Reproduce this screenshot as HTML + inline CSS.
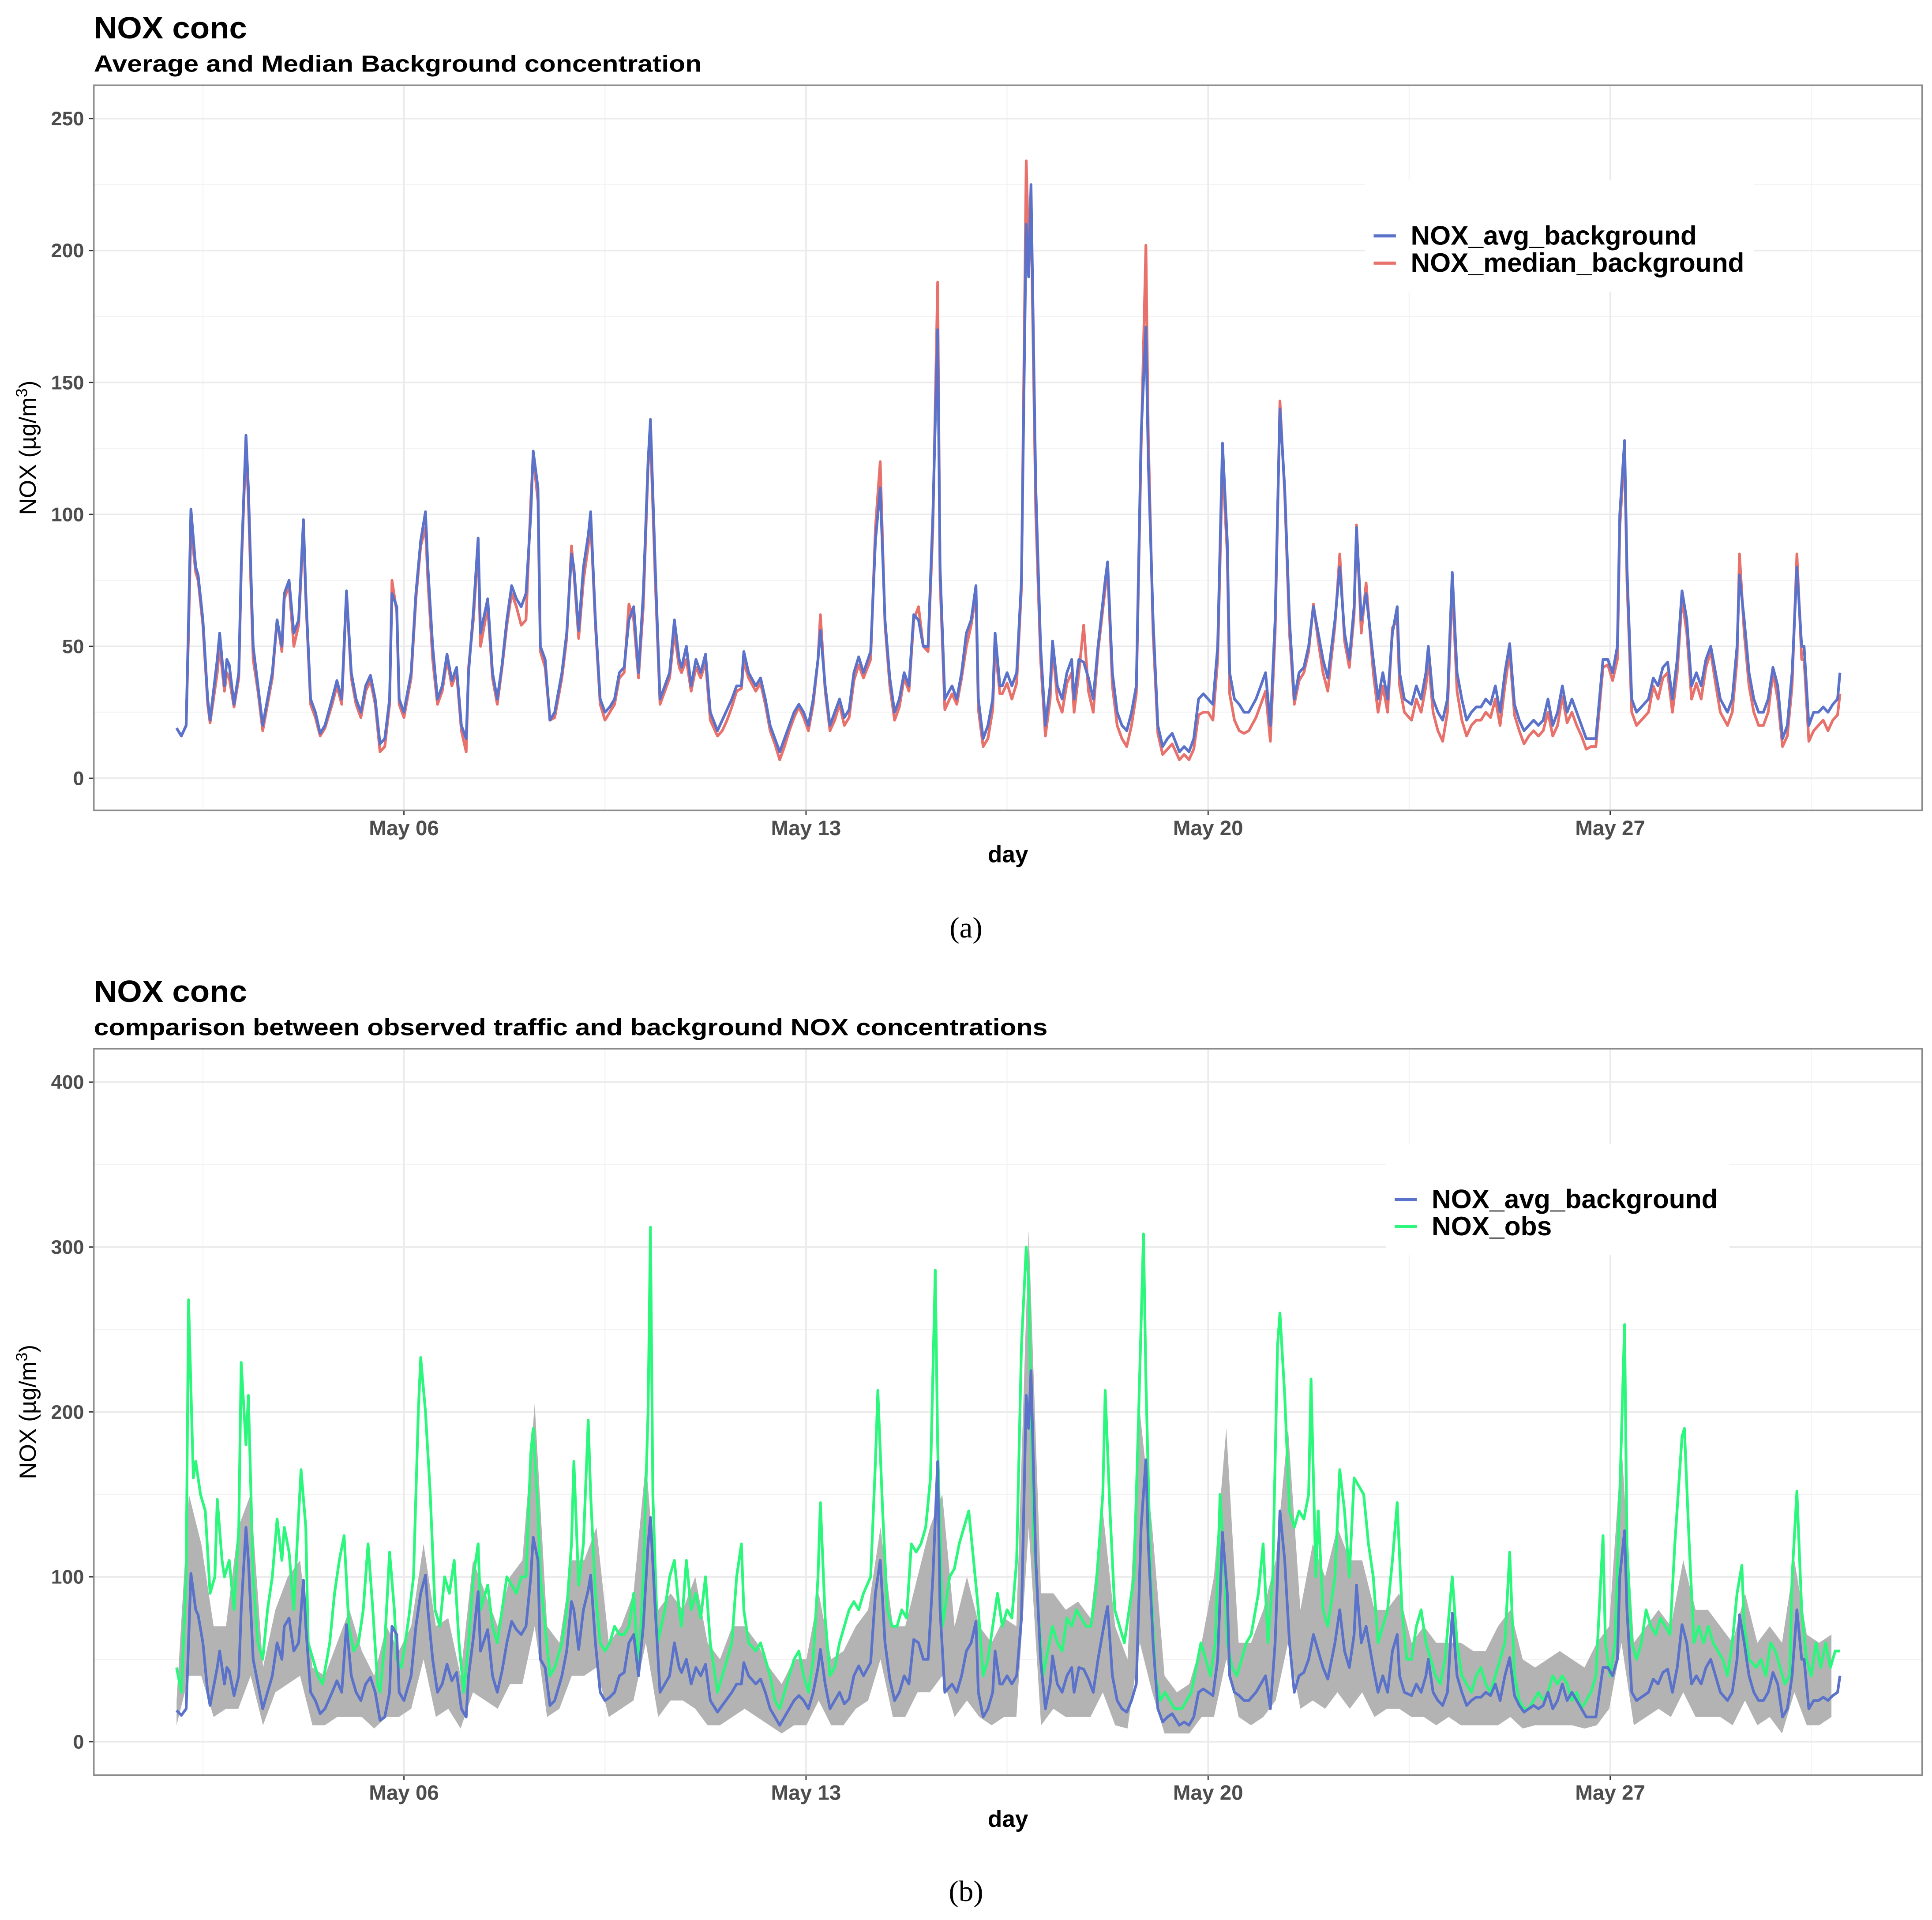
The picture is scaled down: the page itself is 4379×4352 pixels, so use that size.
<!DOCTYPE html>
<html><head><meta charset="utf-8"><style>
html,body{margin:0;padding:0;background:#fff}
svg{display:block}
text{font-family:"Liberation Sans",sans-serif}
</style></head><body>
<svg id="root" xmlns="http://www.w3.org/2000/svg" width="4379" height="4352" viewBox="0 0 1564 1554.3" preserveAspectRatio="none">
<rect x="0" y="0" width="1564" height="1555" fill="#fff"/>
<g id="panelA">
<text x="76" y="31" font-size="25" font-weight="bold" textLength="124" lengthAdjust="spacingAndGlyphs">NOX conc</text>
<text x="76" y="58" font-size="19" font-weight="bold" textLength="492" lengthAdjust="spacingAndGlyphs">Average and Median Background concentration</text>
</g>
<g id="panelB">
<text x="76" y="811" font-size="25" font-weight="bold" textLength="124" lengthAdjust="spacingAndGlyphs">NOX conc</text>
<text x="76" y="838" font-size="19" font-weight="bold" textLength="772" lengthAdjust="spacingAndGlyphs">comparison between observed traffic and background NOX concentrations</text>
</g>
<text x="782" y="759" font-size="24" text-anchor="middle" style="font-family:'Liberation Serif',serif">(a)</text>
<text x="782" y="1539" font-size="24" text-anchor="middle" style="font-family:'Liberation Serif',serif">(b)</text>
</svg>
<script>
// hours since May 02 00:00
const avgHours=[1,3,5,6,7,9,10,12,14,15,18,19,21,22,23,25,27,28,30,31,33,35,37,39,41,43,45,46,48,50,52,54,55,57,59,61,63,66,68,70,72,74,76,78,80,82,84,86,88,90,91,93,94,96,99,101,103,105,106,108,110,112,114,116,118,120,122,123,125,127,128,131,133,135,137,139,141,143,145,147,149,150,152,153,155,157,159,162,164,166,167,169,171,173,174,176,178,180,182,184,186,188,190,192,194,196,198,199,201,203,205,207,209,211,212,214,216,218,220,222,224,227,229,231,233,235,237,238,240,243,245,247,249,251,253,255,257,259,261,263,265,267,269,270,272,274,276,278,280,282,284,286,288,291,293,295,297,299,301,303,305,307,309,311,313,315,317,319,320,322,325,327,329,331,333,335,336,338,340,342,343,345,346,348,350,352,354,356,357,358,360,362,364,366,367,369,371,373,375,376,378,380,382,384,386,389,390,392,394,396,398,400,402,404,406,407,409,411,413,415,417,420,422,424,426,428,430,432,434,436,438,440,441,443,445,447,449,452,454,456,458,460,462,464,466,468,470,472,474,476,478,480,482,485,487,489,491,493,494,496,498,501,503,505,507,509,511,512,514,517,519,521,523,524,526,528,530,532,534,536,538,540,542,544,546,548,550,552,554,556,558,560,562,564,566,568,570,572,574,576,578,580,582,584,586,588,590,592,594,597,599,601,603,604,606,607,609,611,614,616,618,620,622,624,626,628,630,632,634,636,638,640,642,644,646,649,651,653,654,656,658,660,662,664,666,668,670,672,674,676,678,680,681,683,685,687,689,691,693,695,696];
const avgValues=[19,16,20,60,102,80,77,60,30,22,45,55,35,45,43,28,40,80,130,110,50,35,20,30,40,60,50,70,75,55,60,98,70,30,25,17,20,30,37,30,71,40,30,25,35,39,30,13,15,30,70,65,30,25,40,70,90,101,80,50,30,35,47,37,42,20,15,40,63,91,55,68,40,30,43,60,73,68,65,70,100,124,110,50,45,22,25,40,55,85,80,56,80,92,101,60,30,25,27,30,40,42,60,65,40,70,120,136,80,30,35,40,60,45,42,50,35,45,40,47,25,18,22,26,30,35,35,48,40,35,38,30,20,15,10,15,20,25,28,25,20,30,45,56,35,20,25,30,23,26,40,46,40,48,90,110,60,38,25,30,40,35,62,60,50,50,100,170,80,30,35,30,40,55,60,73,30,15,20,30,55,35,35,40,35,40,75,210,190,225,110,50,20,35,52,35,30,40,45,30,45,44,38,30,50,75,82,40,25,20,18,25,35,130,171,120,60,20,12,15,17,10,12,10,15,30,32,30,28,50,127,90,40,30,28,25,25,30,35,40,20,60,140,110,60,30,40,42,50,65,55,45,38,60,80,55,45,65,95,60,70,45,30,40,30,55,65,40,30,28,35,30,40,50,30,25,22,30,78,40,30,22,25,27,27,30,28,35,25,40,51,28,22,18,20,22,20,22,30,20,25,35,25,30,25,20,15,15,15,45,45,40,50,100,128,80,30,25,28,30,38,35,42,44,30,45,71,60,35,40,35,45,50,40,30,25,30,50,77,60,40,30,25,25,30,42,35,15,20,40,80,50,50,20,25,25,27,25,28,30,40];
const medianValues=[19,16,20,55,95,78,75,58,28,21,40,50,33,40,38,27,38,78,127,105,45,33,18,28,38,60,48,68,73,50,58,95,68,28,23,16,19,28,35,28,70,38,28,23,33,37,28,10,12,28,75,63,28,23,38,68,88,95,75,45,28,33,45,35,40,18,10,42,60,88,50,65,38,28,42,58,70,65,58,60,105,122,105,48,42,22,23,38,53,88,78,53,75,88,98,58,28,22,25,28,38,40,66,60,38,65,118,130,75,28,33,38,55,42,40,45,33,42,38,44,22,16,18,22,27,33,34,44,38,33,36,28,18,13,7,12,18,23,27,23,18,28,45,62,33,18,22,28,20,23,37,43,38,45,95,120,58,35,22,27,38,33,60,65,50,48,95,188,75,26,32,28,38,50,58,70,26,12,15,26,50,32,32,36,30,36,72,234,200,215,100,45,16,30,50,30,25,36,40,25,40,58,33,25,48,72,80,35,20,15,12,20,32,125,202,130,55,17,9,11,13,7,9,7,11,24,25,25,22,45,120,85,32,22,18,17,18,23,28,33,14,55,143,108,55,28,37,40,48,66,52,40,33,58,85,52,42,62,96,55,74,40,25,35,25,57,60,35,25,22,30,25,35,45,25,18,14,25,74,33,22,16,20,22,22,25,23,30,20,35,48,24,18,13,16,18,16,18,25,16,20,31,21,25,20,16,11,12,12,42,43,37,45,95,125,75,25,20,23,25,35,30,38,40,25,40,68,55,30,36,30,42,48,36,25,20,25,45,85,55,35,25,20,20,25,40,30,12,16,35,85,45,45,14,18,20,22,18,22,24,32];
const obsHours=[1,3,5,6,8,9,11,13,15,17,18,20,21,23,25,27,28,30,31,33,35,37,39,41,43,45,46,48,50,51,53,55,56,58,60,62,65,67,69,71,73,75,77,79,81,83,85,86,88,90,92,93,95,98,100,102,103,105,107,109,111,113,115,117,119,121,123,125,127,128,131,133,135,137,139,141,143,145,147,149,150,152,153,155,157,159,162,164,166,167,169,171,173,174,176,178,180,182,184,186,188,190,192,194,196,198,199,200,202,205,207,209,211,212,214,216,218,220,222,224,227,229,231,233,235,237,238,240,243,245,247,249,251,253,255,257,259,261,263,265,267,269,270,272,274,276,278,280,282,284,286,288,291,293,294,296,298,300,302,304,306,308,310,312,314,316,318,319,321,324,326,328,330,332,334,336,338,340,342,344,346,348,350,352,354,356,357,359,361,363,365,367,369,371,373,375,377,379,381,383,385,388,389,391,393,395,397,399,401,403,405,406,408,410,412,414,416,418,421,423,425,427,429,431,433,435,437,439,440,442,444,446,448,450,453,455,457,459,461,462,464,466,468,470,472,474,475,477,478,480,482,485,487,489,491,493,495,497,499,501,503,505,507,509,511,513,515,517,519,521,523,525,527,529,531,534,536,538,540,542,544,546,548,550,552,554,556,558,560,562,564,566,568,570,572,574,576,578,580,582,584,586,588,590,592,594,597,598,600,602,604,606,607,609,611,613,615,617,619,621,623,625,627,630,631,633,635,637,639,641,643,645,647,649,651,653,655,656,658,661,663,665,667,669,671,673,675,676,678,680,682,684,686,688,690,692,694,696];
const obsValues=[45,30,100,268,160,170,150,140,90,100,147,110,100,110,80,130,230,180,210,100,60,50,80,100,135,110,130,115,80,110,165,130,60,50,40,35,60,90,110,125,70,55,60,80,120,80,35,30,60,115,80,50,45,75,100,200,233,200,150,80,70,100,90,110,60,30,60,100,120,80,95,70,60,80,100,95,90,100,100,175,190,140,100,70,40,45,60,80,120,170,95,120,195,150,90,60,55,60,70,65,65,70,90,40,100,200,312,150,60,80,100,110,80,70,110,80,90,75,100,60,30,40,50,60,100,120,80,60,55,60,50,40,25,20,30,40,50,55,40,30,50,100,145,75,40,45,60,70,80,85,80,90,100,170,213,140,80,70,70,80,75,120,115,120,130,160,286,180,70,100,105,120,130,140,110,80,40,50,70,90,70,80,75,110,240,300,280,130,80,40,55,70,60,55,75,70,80,75,70,70,90,150,213,140,80,70,60,80,100,200,308,220,100,40,25,30,25,20,20,25,30,45,60,50,40,60,150,100,60,45,40,50,60,65,90,120,60,100,240,260,210,140,130,140,135,150,220,100,140,80,70,100,165,140,100,160,155,150,120,100,60,70,80,110,145,80,50,50,70,80,60,50,40,35,50,100,60,40,35,30,40,45,35,30,40,50,60,115,40,25,20,20,25,30,25,30,40,35,40,35,25,30,20,25,30,40,125,60,40,60,150,253,120,60,50,60,80,70,65,75,70,65,120,185,190,120,60,70,60,70,60,55,50,40,60,90,107,70,50,45,50,40,60,55,45,35,40,100,152,80,50,40,60,45,60,45,55,55];
// background range ribbon, sampled every 5.16 h starting at hour 1
const ribbonStartHour=1, ribbonStepHours=5.16;
const ribbonUpper=[25,150,120,70,70,130,150,45,80,100,110,45,40,60,80,55,40,70,55,70,120,70,75,40,110,90,70,100,110,205,70,60,110,110,130,60,70,90,170,80,90,80,100,60,50,70,70,60,45,35,50,50,90,50,55,70,80,130,70,70,100,130,150,70,100,70,60,75,70,310,90,90,80,85,75,140,70,50,200,130,40,30,35,60,100,190,60,60,80,110,190,80,120,100,130,110,110,80,80,90,60,70,60,60,60,55,55,70,80,50,45,50,55,50,45,60,70,180,60,70,80,70,110,80,80,70,60,90,60,70,60,110,65,60,65];
const ribbonLower=[10,40,40,15,20,20,40,10,30,35,40,10,10,15,15,15,8,15,15,20,50,15,20,8,30,25,20,35,35,70,15,20,40,40,45,15,20,25,60,15,25,25,20,10,10,15,20,15,10,5,10,10,25,10,10,20,25,50,15,15,30,30,40,15,25,15,10,15,15,130,10,20,15,15,15,30,10,8,60,30,5,5,5,15,15,50,15,10,15,25,60,20,25,20,30,20,30,15,20,20,15,15,10,15,10,10,10,10,15,8,10,10,10,10,8,10,20,60,10,15,20,15,30,15,15,15,10,25,10,15,5,30,10,10,15];
const xTickDays=[4,11,18,25];
const xTickLabels=["May 06","May 13","May 20","May 27"];
const yTicksA=[0,50,100,150,200,250];
const yTicksB=[0,100,200,300,400];

const NS="http://www.w3.org/2000/svg";
const root=document.getElementById('root');
function mk(tag,attrs,parent){const e=document.createElementNS(NS,tag);for(const k in attrs)e.setAttribute(k,attrs[k]);(parent||root).appendChild(e);return e;}
const X0=141, PXDAY=46.5, LEFT=76, RIGHT=1556;
function xOf(hours){return X0+hours/24*PXDAY;}
function xDay(d){return X0+d*PXDAY;}

function drawPanel(g,pTop,pBottom,y0,yPerUnit,yTicks,minorStep,ymaxTick){
  const yOf=v=>y0-v*yPerUnit;
  const bg=mk('rect',{x:LEFT,y:pTop,width:RIGHT-LEFT,height:pBottom-pTop,fill:'#fff'},g);
  
  
  for(let v=minorStep;v<=ymaxTick+minorStep;v+=minorStep*2){const y=yOf(v);if(y>pTop&&y<pBottom){const l=mk('line',{x1:LEFT,x2:RIGHT,y1:y,y2:y,stroke:'#f3f3f3','stroke-width':0.8},g);}}
  for(let i=0;i<=xTickDays.length;i++){const d=(i===0?xTickDays[0]-3.5:xTickDays[i-1]+3.5);const x=xDay(d);if(x>LEFT&&x<RIGHT){const l=mk('line',{x1:x,x2:x,y1:pTop,y2:pBottom,stroke:'#f3f3f3','stroke-width':0.8},g);}}
  yTicks.forEach(v=>{const y=yOf(v);const l=mk('line',{x1:LEFT,x2:RIGHT,y1:y,y2:y,stroke:'#ebebeb','stroke-width':1.3},g);
    const t=mk('text',{x:68,y:y+5.5,'font-size':16,'font-weight':'bold','text-anchor':'end',fill:'#4d4d4d'},g);t.textContent=v;
    mk('line',{x1:72,x2:76,y1:y,y2:y,stroke:'#333','stroke-width':1},g);});
  xTickDays.forEach((d,i)=>{const x=xDay(d);const l=mk('line',{x1:x,x2:x,y1:pTop,y2:pBottom,stroke:'#ebebeb','stroke-width':1.3},g);
    mk('line',{x1:x,x2:x,y1:pBottom,y2:pBottom+4,stroke:'#333','stroke-width':1},g);
    const t=mk('text',{x:x,y:pBottom+20,'font-size':17,'font-weight':'bold','text-anchor':'middle',fill:'#4d4d4d'},g);t.textContent=xTickLabels[i];});
  const xt=mk('text',{x:816,y:pBottom+42,'font-size':19,'font-weight':'bold','text-anchor':'middle'},g);xt.textContent='day';
  
  const cy=(pTop+pBottom)/2;
  const yt=mk('text',{x:0,y:0,'font-size':19,'text-anchor':'middle',transform:`translate(29,${cy}) rotate(-90)`},g);
  yt.innerHTML='NOX (µg/m<tspan dy="-7" font-size="13">3</tspan><tspan dy="7">)</tspan>';
  
  return yOf;
}
function pathFrom(hours,vals,yOf){let d='';const n=Math.min(hours.length,vals.length);for(let i=0;i<n;i++){d+=(i?'L':'M')+xOf(hours[i]).toFixed(2)+','+yOf(vals[i]).toFixed(2);}return d;}
function legend(g,x,y,w,h,items){
  const box=mk('rect',{x:x,y:y,width:w,height:h,fill:'#fff'},g);
  items.forEach((it,i)=>{const ly=y+45+i*22;
    const l=mk('line',{x1:x+7,x2:x+25,y1:ly,y2:ly,stroke:it[1],'stroke-width':2.5},g);
    const t=mk('text',{x:x+37,y:ly+7,'font-size':21.6,'font-weight':'bold'},g);t.textContent=it[0];});
}
const BLUE='#5a72c9', RED='#e8716b', GREEN='#2bf77c';
const gA=document.getElementById('panelA');
const yA=drawPanel(gA,69,656,630,106.8/50,yTicksA,25,250);
const med=mk('path',{d:pathFrom(avgHours,medianValues,yA),fill:'none',stroke:RED,'stroke-width':2.2,'stroke-linejoin':'round'},gA);


const av=mk('path',{d:pathFrom(avgHours,avgValues,yA),fill:'none',stroke:BLUE,'stroke-width':2.2,'stroke-linejoin':'round'},gA);


legend(gA,1105,146,315,90,[["NOX_avg_background",BLUE],["NOX_median_background",RED]]);
mk('rect',{x:76,y:69,width:1480,height:587,fill:'none',stroke:'#8a8a8a','stroke-width':1.2},gA);
const gB=document.getElementById('panelB');
const yB=drawPanel(gB,849,1437,1410,133.5/100,yTicksB,50,400);
let ribTop='',ribBot='';
for(let i=0;i<ribbonUpper.length;i++){const h=ribbonStartHour+i*ribbonStepHours;ribTop+=(i?'L':'M')+xOf(h).toFixed(2)+','+yB(ribbonUpper[i]).toFixed(2);}
for(let i=ribbonLower.length-1;i>=0;i--){const h=ribbonStartHour+i*ribbonStepHours;ribBot+='L'+xOf(h).toFixed(2)+','+yB(ribbonLower[i]).toFixed(2);}
const rib=mk('path',{d:ribTop+ribBot+'Z',fill:'#b3b3b3',stroke:'none'},gB);


const ob=mk('path',{d:pathFrom(obsHours,obsValues,yB),fill:'none',stroke:GREEN,'stroke-width':2.2,'stroke-linejoin':'round'},gB);


const av2=mk('path',{d:pathFrom(avgHours,avgValues,yB),fill:'none',stroke:BLUE,'stroke-width':2.2,'stroke-linejoin':'round'},gB);


legend(gB,1122,926,278,90,[["NOX_avg_background",BLUE],["NOX_obs",GREEN]]);
mk('rect',{x:76,y:849,width:1480,height:588,fill:'none',stroke:'#8a8a8a','stroke-width':1.2},gB);
</script>
</body></html>
